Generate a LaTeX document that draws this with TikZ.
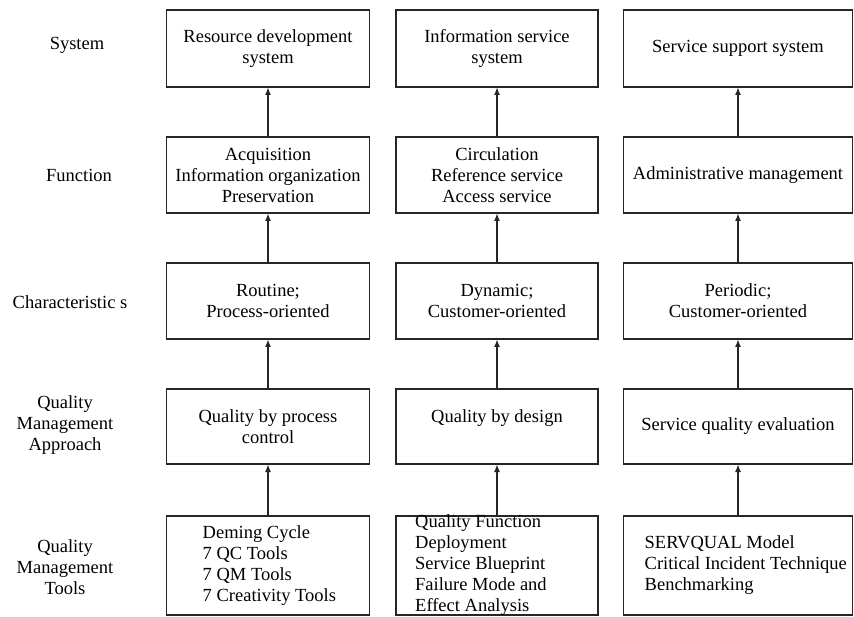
\documentclass[tikz,border=0pt]{standalone}
\usepackage{fontspec}
\setmainfont{Liberation Serif}
\usepackage{tikz}
\usetikzlibrary{positioning,arrows.meta}

\definecolor{inkgray}{HTML}{262626}

\tikzset{
    box/.style={draw=inkgray, line width=1.4pt, outer sep=0pt, inner sep=2pt,
        align=center, font=\fontsize{18.5}{21}\selectfont},
    colA/.style={box, minimum width=203pt},
    colB/.style={box, minimum width=202pt},
    colC/.style={box, minimum width=229pt},
    toollist/.style={inner sep=0pt, align=left, anchor=west,
        font=\fontsize{18.5}{21}\selectfont},
    rowlabel/.style={align=center, font=\fontsize{18.5}{21}\selectfont},
    up/.style={draw=inkgray, line width=1.8pt, -{Latex[length=8pt,width=6pt]}}
}

\begin{document}
\begin{tikzpicture}[x=1pt, y=-1pt]
    \useasboundingbox (0,0) rectangle (854,617);

    % systems
    \node (sys1) [colA, minimum height=77pt] at (268,48.5) {Resource development\\system};
    \node (sys2) [colB, minimum height=77pt, right=26.5pt of sys1] {Information service\\system};
    \node (sys3) [colC, minimum height=77pt, right=25.5pt of sys2] {Service support system};

    % functions
    \node (fun1) [colA, minimum height=76pt, below=50pt of sys1] {Acquisition\\Information organization\\Preservation};
    \node (fun2) [colB, minimum height=76pt, below=50pt of sys2] {Circulation\\Reference service\\Access service};
    \node (fun3) [colC, minimum height=76pt, below=50pt of sys3] {Administrative management};

    % characteristics
    \node (chr1) [colA, minimum height=76pt, below=50pt of fun1] {Routine;\\Process-oriented};
    \node (chr2) [colB, minimum height=76pt, below=50pt of fun2] {Dynamic;\\Customer-oriented};
    \node (chr3) [colC, minimum height=76pt, below=50pt of fun3] {Periodic;\\Customer-oriented};

    % approaches
    \node (qma1) [colA, minimum height=75pt, below=50pt of chr1] {Quality by process\\control};
    \node (qma2) [colB, minimum height=75pt, below=50pt of chr2] {Quality by design\\~};
    \node (qma3) [colC, minimum height=75pt, below=50pt of chr3] {Service quality evaluation};

    % tools
    \node (tool1) [colA, minimum height=99pt, below=52pt of qma1] {};
    \node (tool2) [colB, minimum height=99pt, below=52pt of qma2] {};
    \node (tool3) [colC, minimum height=99pt, below=52pt of qma3] {};
    \node (tool1txt) [toollist, right=36pt of tool1.west] {Deming Cycle\\7 QC Tools\\7 QM Tools\\7 Creativity Tools};
    \node (tool2txt) [toollist, right=19pt of tool2.west] {Quality Function\\Deployment\\Service Blueprint\\Failure Mode and\\Effect Analysis};
    \node (tool3txt) [toollist, right=21pt of tool3.west] {SERVQUAL Model\\Critical Incident Technique\\Benchmarking};

    % row labels
    \node (lsys) [rowlabel] at (77,45) {System};
    \node (lfun) [rowlabel] at (79,175) {Function};
    \node (lchr) [rowlabel] at (70,302) {Characteristic s};
    \node (lqma) [rowlabel] at (65,425) {Quality\\Management\\Approach};
    \node (ltool) [rowlabel] at (65,567) {Quality\\Management\\Tools};

    % arrows
    \foreach \col in {1,2,3} {
        \draw [up] (fun\col) -- (sys\col);
        \draw [up] (chr\col) -- (fun\col);
        \draw [up] (qma\col) -- (chr\col);
        \draw [up] (tool\col) -- (qma\col);
    }
\end{tikzpicture}
\end{document}
